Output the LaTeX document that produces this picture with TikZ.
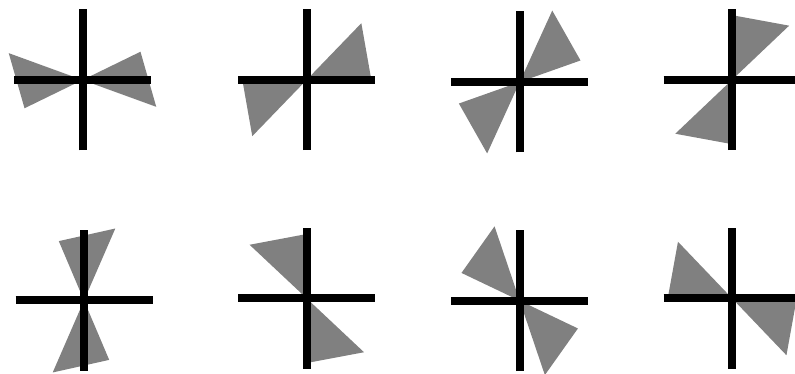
\documentclass[tikz,border=0pt]{standalone}
\begin{document}
\begin{tikzpicture}[x=1pt, y=1pt,
    bar/.style={line width=8pt, black},
    wedge/.style={fill=gray}]
  \useasboundingbox (0,0) rectangle (795,374);
  % centre x / centre y / near edge angle / far edge angle
  \foreach \cx/\cy/\na/\fa in {82.5/294/26/-20, 306.8/294.3/0/46, 519.7/292/19.5/65.5, 732.2/294.3/90/43.5,
                               84/73.5/113/66.5, 306.8/75.5/90/136.8, 519.7/73.3/154.5/108.7, 732.2/75.5/180/133.7}{
    \begin{scope}[shift={(\cx,\cy)}]
      \fill[wedge] (0,0) -- (\na:64.5) -- (\fa:78.5) -- cycle
                   (0,0) -- (\na+180:64.5) -- (\fa+180:78.5) -- cycle;
      \draw[bar] (-68.5,0) -- (68.5,0) (0,-70.5) -- (0,70.5);
    \end{scope}
  }
\end{tikzpicture}
\end{document}
